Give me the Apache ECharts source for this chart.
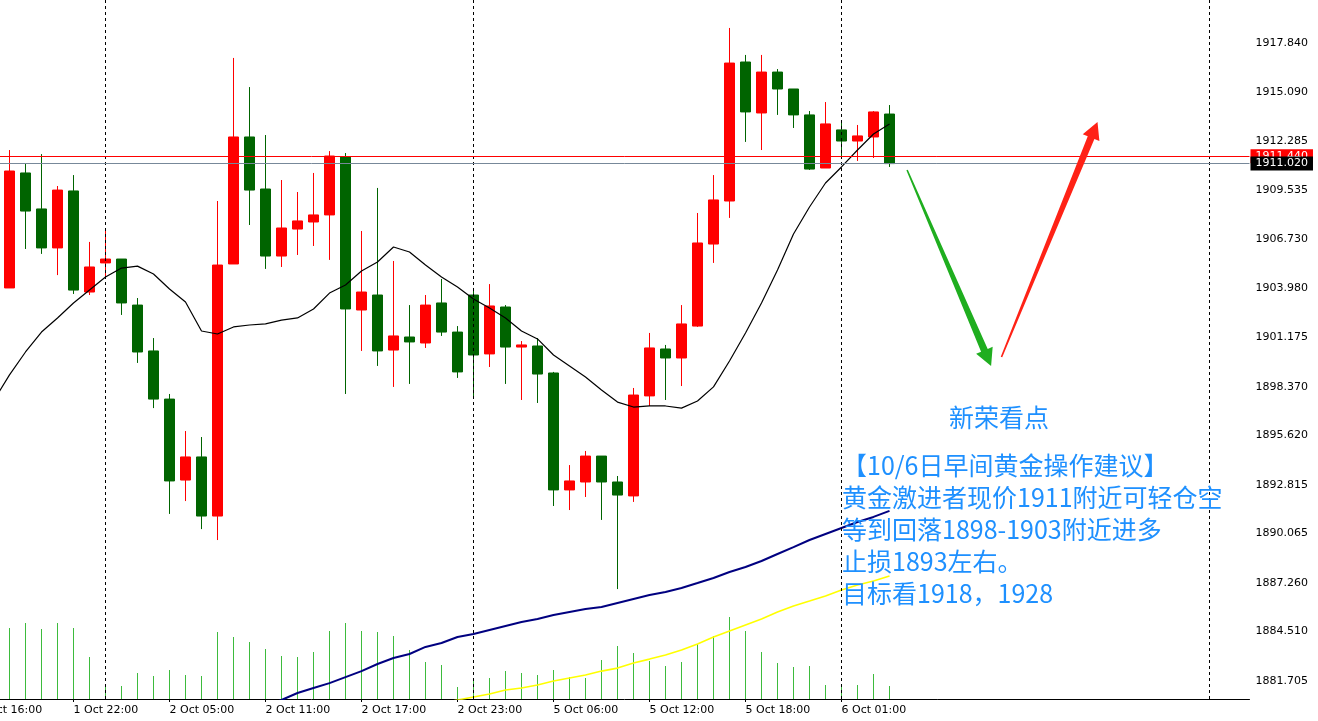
<!DOCTYPE html>
<html><head><meta charset="utf-8">
<script src="https://cdn.jsdelivr.net/npm/echarts@6/dist/echarts.min.js"></script>
<style>html,body{margin:0;padding:0;background:#fff;overflow:hidden}#c{width:1318px;height:721px}</style>
</head><body><div id="c"></div>
<script>
// ---- time axis: hourly sessions (day, first hour, last hour) ----
const sessions = [['1 Oct',16,23],['2 Oct',1,23],['5 Oct',1,23],['6 Oct',1,23],['7 Oct',1,3]];
const timeLabels = ['1 Oct 16:00','1 Oct 22:00','2 Oct 05:00','2 Oct 11:00','2 Oct 17:00','2 Oct 23:00','5 Oct 06:00','5 Oct 12:00','5 Oct 18:00','6 Oct 01:00'];
const separators = ['2 Oct 01:00','5 Oct 01:00','6 Oct 01:00','7 Oct 01:00'];
const firstCandle = '1 Oct 18:00';

// ---- price axis ----
const priceMin = 1880.668, priceMax = 1920.295;
const priceTicks = [1881.705,1884.510,1887.260,1890.065,1892.815,1895.620,1898.370,1901.175,1903.980,1906.730,1909.535,1912.285,1915.090,1917.840];
const askPrice = 1911.440, bidPrice = 1911.020;

// ---- candles (XAUUSD H1) ----
const opens = [1903.97,1910.49,1908.45,1906.24,1909.47,1903.74,1905.39,1905.61,1903.00,1900.40,
1897.67,1893.08,1894.39,1891.04,1905.33,1912.53,1909.58,1905.78,1907.31,1907.71,
1908.11,1911.39,1902.72,1903.57,1900.45,1901.19,1900.85,1903.12,1901.47,1903.57,
1900.23,1902.89,1900.62,1900.68,1899.15,1892.52,1892.97,1894.44,1892.97,1892.18,
1897.85,1900.51,1900.00,1901.81,1906.46,1908.90,1916.78,1913.89,1916.21,1915.25,
1913.78,1910.77,1912.93,1912.30,1912.53,1913.83];
const closes = [1910.60,1908.33,1906.24,1909.52,1903.85,1905.16,1905.61,1903.12,1900.34,1897.67,
1893.03,1894.39,1891.04,1905.27,1912.53,1909.52,1905.78,1907.37,1907.77,1908.11,
1911.45,1902.78,1903.74,1900.40,1901.25,1900.91,1903.00,1901.47,1899.21,1900.17,
1902.95,1900.62,1900.74,1899.09,1892.52,1893.03,1894.44,1892.97,1892.23,1897.90,
1900.57,1900.00,1901.93,1906.52,1908.96,1916.72,1913.95,1916.21,1915.25,1913.78,
1910.71,1913.27,1912.30,1912.59,1913.95,1911.02];
const lows = [1903.97,1906.18,1905.90,1904.70,1903.63,1903.57,1904.48,1902.44,1899.72,1897.16,
1891.16,1891.89,1890.30,1889.68,1905.33,1907.54,1905.05,1905.16,1905.84,1906.35,
1905.56,1897.96,1900.40,1899.55,1898.36,1898.53,1900.57,1901.25,1898.87,1897.73,
1899.49,1898.53,1897.62,1897.45,1891.61,1891.38,1892.12,1890.82,1886.90,1891.84,
1897.28,1897.62,1898.41,1901.76,1905.39,1907.94,1912.25,1911.79,1913.78,1913.04,
1910.66,1910.77,1911.39,1911.17,1911.34,1910.83];
const highs = [1911.79,1911.00,1911.56,1909.75,1910.37,1906.58,1907.31,1905.61,1903.40,1901.13,
1897.96,1895.86,1895.52,1908.90,1917.01,1915.36,1912.64,1910.09,1909.41,1910.49,
1911.73,1911.62,1907.20,1909.64,1905.50,1903.00,1903.57,1904.48,1901.81,1903.97,
1904.19,1903.00,1900.96,1901.13,1899.21,1893.93,1894.73,1894.44,1893.31,1898.30,
1901.42,1900.74,1903.00,1908.22,1910.37,1918.71,1917.18,1917.18,1916.38,1915.25,
1914.00,1914.51,1913.44,1913.21,1914.00,1914.34];
const volumes = [71,76,70,76,71,42,13,13,26,23,
29,24,23,67,62,57,50,43,42,47,
68,76,68,67,63,49,37,34,12,19,
21,28,26,24,29,22,21,39,53,46,
38,33,37,55,63,82,68,47,36,32,
33,14,13,14,25,13];
const volumeScaleMax = 699;

// ---- moving averages, with first category of each ----
const maBlackStart = '1 Oct 17:00';
const maBlack = [1897.56,1899.04,1900.34,1901.47,1902.27,1903.12,1903.85,1904.59,1905.10,1905.21,1904.76,
1903.91,1903.17,1901.53,1901.36,1901.76,1901.87,1901.93,1902.15,1902.27,1902.78,
1903.68,1904.14,1904.93,1905.44,1906.29,1906.01,1905.27,1904.59,1904.02,1903.34,
1902.83,1902.27,1901.53,1901.08,1900.17,1899.55,1898.92,1898.19,1897.50,1897.22,
1897.28,1897.28,1897.16,1897.56,1898.36,1899.83,1901.42,1903.12,1904.99,1907.03,
1908.56,1909.92,1910.83,1911.79,1912.70,1913.27];
const maNavyStart = '2 Oct 11:00';
const maNavy = [1880.27,1880.61,1881.01,1881.29,1881.57,1881.91,1882.25,1882.65,1882.99,1883.22,
1883.62,1883.84,1884.18,1884.35,1884.58,1884.81,1885.03,1885.20,1885.43,1885.60,
1885.77,1885.88,1886.11,1886.34,1886.56,1886.73,1886.96,1887.24,1887.53,1887.87,
1888.15,1888.49,1888.89,1889.28,1889.68,1890.02,1890.36,1890.70,1890.99,1891.33];
const maYellowStart = '2 Oct 22:00';
const maYellow = [1880.44,1880.61,1880.78,1880.95,1881.18,1881.29,1881.46,1881.69,1881.86,1882.03,
1882.25,1882.42,1882.71,1882.93,1883.16,1883.45,1883.79,1884.18,1884.52,1884.86,
1885.20,1885.60,1885.94,1886.22,1886.51,1886.85,1887.13,1887.36,1887.64];

// ---- drawn arrows: [start index, start price, end index, end price] ----
const arrowDown = [58.1, 1910.66, 63.35, 1899.55];
const arrowUp = [64.0, 1900.06, 70.0, 1913.38];

// ---- annotation text ----
const noteTitle = '新荣看点';
const noteLines = ['【10/6日早间黄金操作建议】','黄金激进者现价1911附近可轻仓空','等到回落1898-1903附近进多','止损1893左右。','目标看1918，1928'];

// ---- build ----
const categories = [];
sessions.forEach(s => { for (let h = s[1]; h <= s[2]; h++) categories.push(s[0] + ' ' + String(h).padStart(2,'0') + ':00'); });
const N = categories.length;
function place(arr, startName, mapFn) {
  const out = new Array(N).fill('-');
  const st = categories.indexOf(startName);
  arr.forEach((v, i) => { out[st + i] = mapFn ? mapFn(v, i) : v; });
  return out;
}
const candleData = place(opens, firstCandle, (o, i) => [o, closes[i], lows[i], highs[i]]);
const volData = place(volumes, firstCandle);
const blackData = place(maBlack, maBlackStart);
const navyData = place(maNavy, maNavyStart);
const yellowData = place(maYellow, maYellowStart);
const showLabel = (i, v) => timeLabels.indexOf(v) >= 0;
const axisFont = {color:'#000', fontFamily:'DejaVu Sans', fontSize:11};

const chart = echarts.init(document.getElementById('c'), null, {renderer:'canvas'});
chart.setOption({
  animation:false,
  backgroundColor:'#fff',
  grid:{left:-30.5, top:0, width:1280, height:699, containLabel:false, outerBoundsMode:'none'},
  xAxis:[
    {type:'category', data:categories, boundaryGap:true,
     axisLine:{show:true, lineStyle:{color:'#000', width:1}},
     axisTick:{show:true, alignWithLabel:true, interval:showLabel, length:3, lineStyle:{color:'#000'}},
     axisLabel:Object.assign({show:true, interval:showLabel, align:'left', margin:6, hideOverlap:false}, axisFont),
     splitLine:{show:false}},
    {type:'value', min:-0.5, max:N-0.5, show:false}
  ],
  yAxis:[
    {type:'value', position:'right', min:priceMin, max:priceMax,
     axisLine:{show:true, lineStyle:{color:'#000', width:1}},
     axisTick:{show:true, length:3, customValues:priceTicks, lineStyle:{color:'#000'}},
     axisLabel:Object.assign({show:true, customValues:priceTicks, margin:6, formatter:v => v.toFixed(3)}, axisFont),
     splitLine:{show:false}},
    {type:'value', min:0, max:volumeScaleMax, show:false}
  ],
  series:[
    {type:'bar', name:'Volumes', xAxisIndex:0, yAxisIndex:1, data:volData, barWidth:1, z:1,
     itemStyle:{color:'#3dbb3d'}, silent:true,
     markLine:{silent:true, symbol:['none','none'], label:{show:false},
       lineStyle:{type:[3,3], color:'#000', width:1},
       data:separators.map(s => ({xAxis:s}))}},
    {type:'candlestick', name:'XAUUSD', data:candleData, barWidth:10, z:2,
     itemStyle:{color:'#ff0000', color0:'#006400', borderColor:'#ff0000', borderColor0:'#006400', borderWidth:1}},
    {type:'line', name:'MA', data:blackData, symbol:'none', z:4, lineStyle:{color:'#000', width:1.2}, clip:true,
     markLine:{silent:true, symbol:['none','none'], animation:false,
       data:[
         {yAxis:askPrice, lineStyle:{color:'#ff0000', width:1, type:'solid'},
          label:{show:true, position:'end', distance:1, formatter:p => Number(p.value).toFixed(3), backgroundColor:'#ff0000', color:'#fff', padding:[1,5,1,5], fontFamily:'DejaVu Sans', fontSize:11, lineHeight:12}},
         {yAxis:bidPrice, lineStyle:{color:'#778899', width:1, type:'solid'},
          label:{show:true, position:'end', distance:1, formatter:p => Number(p.value).toFixed(3), backgroundColor:'#000', color:'#fff', padding:[1,5,1,5], fontFamily:'DejaVu Sans', fontSize:11, lineHeight:12}}
       ]}},
    {type:'line', name:'MA2', data:navyData, symbol:'none', z:4, lineStyle:{color:'#000080', width:2}, clip:true},
    {type:'line', name:'MA3', data:yellowData, symbol:'none', z:4, lineStyle:{color:'#ffff00', width:1.6}, clip:true},
    {type:'custom', name:'arrows', xAxisIndex:1, yAxisIndex:0, z:5, clip:false, silent:true,
     data:[{value:arrowDown, itemStyle:{color:'#1fae1f'}}, {value:arrowUp, itemStyle:{color:'#ff2216'}}],
     renderItem:function(params, api){
       const s = api.coord([api.value(0), api.value(1)]);
       const e = api.coord([api.value(2), api.value(3)]);
       const dx = e[0]-s[0], dy = e[1]-s[1], L = Math.sqrt(dx*dx+dy*dy);
       const ux = dx/L, uy = dy/L, nx = -uy, ny = ux;
       const headLen = 17, headHalf = 9, w0 = 0.8, w1 = 3.6;
       const bx = e[0]-ux*headLen, by = e[1]-uy*headLen;
       const pts = [[s[0]+nx*w0, s[1]+ny*w0],[bx+nx*w1, by+ny*w1],[bx+nx*headHalf, by+ny*headHalf],[e[0], e[1]],
                    [bx-nx*headHalf, by-ny*headHalf],[bx-nx*w1, by-ny*w1],[s[0]-nx*w0, s[1]-ny*w0]];
       return {type:'polygon', shape:{points:pts}, style:{fill:api.visual('color')}};
     }}
  ],
  graphic:[
    {type:'text', left:949, top:401, z:10, style:{text:noteTitle, font:'25px "Noto Sans CJK SC"', fill:'#1e90ff', lineHeight:32}},
    {type:'text', left:842, top:449, z:10, style:{text:noteLines.join('\n'), font:'25px "Noto Sans CJK SC"', fill:'#1e90ff', lineHeight:32}}
  ]
});
</script></body></html>
